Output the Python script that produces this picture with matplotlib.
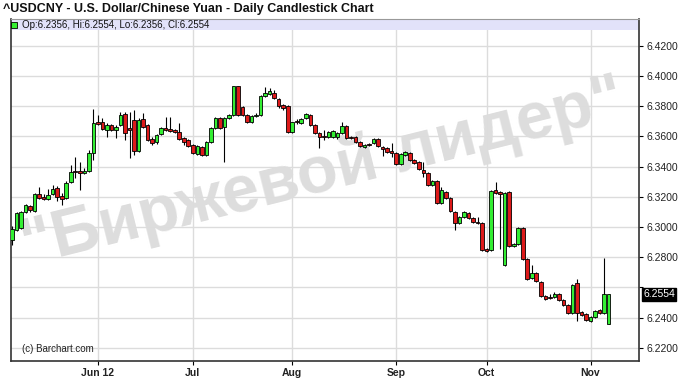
import numpy as np
import matplotlib
matplotlib.use('Agg')
import matplotlib.pyplot as plt
import matplotlib.transforms as mtrans
from matplotlib.patches import Rectangle

# daily candles, May 2012 - Nov 2012
opens = [6.2913, 6.2980, 6.2993, 6.3099, 6.3139, 6.3106, 6.3218, 6.3198, 6.3185, 6.3218,
         6.3258, 6.3205, 6.3192, 6.3298, 6.3370, 6.3370, 6.3357, 6.3370, 6.3490, 6.3695,
         6.3695, 6.3642, 6.3675, 6.3642, 6.3675, 6.3748, 6.3655, 6.3708, 6.3503, 6.3715,
         6.3675, 6.3582, 6.3563, 6.3616, 6.3655, 6.3649, 6.3642, 6.3629, 6.3589, 6.3576,
         6.3543, 6.3483, 6.3529, 6.3476, 6.3563, 6.3655, 6.3722, 6.3662, 6.3722, 6.3741,
         6.3933, 6.3794, 6.3741, 6.3695, 6.3735, 6.3741, 6.3867, 6.3880, 6.3887, 6.3847,
         6.3808, 6.3801, 6.3629, 6.3702, 6.3688, 6.3722, 6.3741, 6.3675, 6.3622, 6.3602,
         6.3596, 6.3596, 6.3596, 6.3622, 6.3668, 6.3596, 6.3596, 6.3563, 6.3529, 6.3549,
         6.3556, 6.3582, 6.3529, 6.3523, 6.3503, 6.3490, 6.3417, 6.3476, 6.3490, 6.3443,
         6.3430, 6.3377, 6.3357, 6.3278, 6.3304, 6.3159, 6.3231, 6.3192, 6.3099, 6.3026,
         6.3066, 6.3092, 6.3059, 6.3033, 6.3026, 6.2854, 6.2847, 6.3245, 6.3231, 6.2748,
         6.3231, 6.2874, 6.2887, 6.2993, 6.2788, 6.2662, 6.2695, 6.2635, 6.2543, 6.2536,
         6.2536, 6.2556, 6.2516, 6.2483, 6.2430, 6.2629, 6.2437, 6.2423, 6.2377, 6.2404,
         6.2450, 6.2430, 6.2356]
highs = [6.3006, 6.3099, 6.3106, 6.3152, 6.3145, 6.3225, 6.3265, 6.3218, 6.3251, 6.3278,
         6.3271, 6.3225, 6.3304, 6.3410, 6.3463, 6.3430, 6.3390, 6.3510, 6.3781, 6.3741,
         6.3722, 6.3688, 6.3682, 6.3675, 6.3761, 6.3761, 6.3761, 6.3774, 6.3722, 6.3755,
         6.3682, 6.3596, 6.3616, 6.3662, 6.3728, 6.3728, 6.3649, 6.3688, 6.3596, 6.3582,
         6.3549, 6.3543, 6.3536, 6.3569, 6.3662, 6.3728, 6.3728, 6.3728, 6.3748, 6.3933,
         6.3933, 6.3801, 6.3748, 6.3741, 6.3755, 6.3874, 6.3927, 6.3920, 6.3907, 6.3854,
         6.3814, 6.3808, 6.3695, 6.3715, 6.3722, 6.3755, 6.3748, 6.3682, 6.3629, 6.3642,
         6.3635, 6.3642, 6.3629, 6.3695, 6.3675, 6.3602, 6.3602, 6.3569, 6.3549, 6.3556,
         6.3589, 6.3589, 6.3536, 6.3529, 6.3556, 6.3496, 6.3490, 6.3503, 6.3496, 6.3450,
         6.3437, 6.3430, 6.3364, 6.3311, 6.3311, 6.3265, 6.3238, 6.3198, 6.3106, 6.3073,
         6.3106, 6.3099, 6.3066, 6.3066, 6.3033, 6.2860, 6.3245, 6.3298, 6.3238, 6.3231,
         6.3238, 6.2893, 6.2999, 6.2999, 6.2794, 6.2748, 6.2702, 6.2642, 6.2549, 6.2556,
         6.2569, 6.2562, 6.2523, 6.2490, 6.2622, 6.2655, 6.2443, 6.2430, 6.2410, 6.2450,
         6.2456, 6.2794, 6.2554]
lows = [6.2880, 6.2973, 6.2986, 6.3092, 6.3099, 6.3099, 6.3185, 6.3178, 6.3178, 6.3212,
        6.3172, 6.3145, 6.3185, 6.3291, 6.3324, 6.3245, 6.3351, 6.3364, 6.3443, 6.3675,
        6.3642, 6.3596, 6.3635, 6.3589, 6.3668, 6.3576, 6.3457, 6.3476, 6.3496, 6.3655,
        6.3569, 6.3543, 6.3549, 6.3609, 6.3635, 6.3629, 6.3622, 6.3576, 6.3543, 6.3529,
        6.3483, 6.3476, 6.3470, 6.3470, 6.3556, 6.3649, 6.3649, 6.3430, 6.3715, 6.3735,
        6.3735, 6.3735, 6.3688, 6.3688, 6.3728, 6.3735, 6.3861, 6.3874, 6.3847, 6.3788,
        6.3774, 6.3622, 6.3622, 6.3682, 6.3682, 6.3715, 6.3668, 6.3616, 6.3523, 6.3576,
        6.3589, 6.3589, 6.3582, 6.3616, 6.3582, 6.3582, 6.3556, 6.3529, 6.3523, 6.3536,
        6.3549, 6.3529, 6.3470, 6.3490, 6.3463, 6.3410, 6.3410, 6.3470, 6.3437, 6.3417,
        6.3377, 6.3331, 6.3271, 6.3271, 6.3152, 6.3152, 6.3185, 6.3099, 6.2980, 6.3020,
        6.3059, 6.3053, 6.3026, 6.3020, 6.2841, 6.2834, 6.2841, 6.3218, 6.2854, 6.2741,
        6.2867, 6.2867, 6.2880, 6.2781, 6.2648, 6.2655, 6.2635, 6.2536, 6.2516, 6.2523,
        6.2529, 6.2509, 6.2476, 6.2423, 6.2423, 6.2377, 6.2410, 6.2377, 6.2370, 6.2397,
        6.2423, 6.2423, 6.2356]
closes = [6.2986, 6.3092, 6.3099, 6.3145, 6.3112, 6.3218, 6.3192, 6.3185, 6.3212, 6.3251,
          6.3198, 6.3185, 6.3291, 6.3364, 6.3364, 6.3357, 6.3370, 6.3490, 6.3688, 6.3682,
          6.3649, 6.3675, 6.3642, 6.3662, 6.3741, 6.3622, 6.3642, 6.3503, 6.3708, 6.3662,
          6.3576, 6.3556, 6.3609, 6.3655, 6.3642, 6.3635, 6.3629, 6.3582, 6.3563, 6.3536,
          6.3490, 6.3536, 6.3476, 6.3563, 6.3655, 6.3722, 6.3655, 6.3722, 6.3741, 6.3933,
          6.3741, 6.3741, 6.3695, 6.3735, 6.3741, 6.3867, 6.3887, 6.3900, 6.3854, 6.3801,
          6.3788, 6.3629, 6.3695, 6.3695, 6.3715, 6.3748, 6.3675, 6.3622, 6.3596, 6.3596,
          6.3629, 6.3635, 6.3622, 6.3668, 6.3589, 6.3589, 6.3563, 6.3536, 6.3543, 6.3543,
          6.3582, 6.3536, 6.3516, 6.3496, 6.3490, 6.3417, 6.3483, 6.3496, 6.3443, 6.3423,
          6.3384, 6.3357, 6.3278, 6.3304, 6.3159, 6.3245, 6.3192, 6.3106, 6.3026, 6.3066,
          6.3099, 6.3059, 6.3033, 6.3026, 6.2847, 6.2841, 6.3238, 6.3225, 6.3218, 6.3225,
          6.2874, 6.2887, 6.2993, 6.2788, 6.2655, 6.2695, 6.2642, 6.2543, 6.2523, 6.2529,
          6.2556, 6.2516, 6.2483, 6.2430, 6.2616, 6.2430, 6.2417, 6.2384, 6.2404, 6.2443,
          6.2430, 6.2556, 6.2554]

month_pos = [19, 40, 62, 85, 105, 128]
month_labels = ['Jun 12', 'Jul', 'Aug', 'Sep', 'Oct', 'Nov']
price_ticks = [6.22, 6.24, 6.26, 6.28, 6.30, 6.32, 6.34, 6.36, 6.38, 6.40, 6.42]
last_price = 6.2554

plt.rcParams['font.family'] = ['Liberation Sans', 'DejaVu Sans']

o = np.array(opens)
h = np.array(highs)
l = np.array(lows)
c = np.array(closes)
idx = np.arange(len(o))
up = c >= o

fig = plt.figure(figsize=(6.88, 3.81), dpi=100)
ax = fig.add_axes([0.016, 0.0525, 0.9135, 0.8976])

ax.set_xlim(-0.22, 138.83)
ax.set_ylim(6.2112, 6.4377)

ax.grid(True, color='#dcdcdc', linewidth=1.0)
ax.set_axisbelow(True)

# wicks then bodies
ax.vlines(idx, l, h, color='black', linewidth=0.8, zorder=3)
body_low = np.minimum(o, c)
body_h = np.maximum(np.abs(c - o), 0.0008)
colors = np.where(up, '#33ee33', '#dd1a1a')
ax.bar(idx, body_h, bottom=body_low, width=0.8, color=colors,
       edgecolor='black', linewidth=0.6, zorder=4)

# watermark
ax.text(0.495, 0.55, '"Биржевой лидер"', transform=ax.transAxes, rotation=14,
        fontsize=48, fontweight='bold', color='#dddddd', ha='center',
        va='center', zorder=1)

ax.text(0.0175, 0.035, '(c) Barchart.com', transform=ax.transAxes,
        fontsize=7, color='#222222', va='center', zorder=5)

# legend band at top
ax.add_patch(Rectangle((0, 0.967), 1, 0.033, transform=ax.transAxes,
                       facecolor='#e2e2fa', edgecolor='none', zorder=2))
ax.plot([0.0055], [0.9835], marker='s', markersize=5, color='#33ee33',
        markeredgecolor='black', markeredgewidth=0.6, transform=ax.transAxes,
        zorder=5, clip_on=False)
ax.text(0.0175, 0.9835, 'Op:6.2356, Hi:6.2554, Lo:6.2356, Cl:6.2554',
        transform=ax.transAxes, fontsize=7, va='center', color='#111111',
        zorder=5)

ax.yaxis.tick_right()
ax.set_yticks(price_ticks)
ax.set_yticklabels(['' if abs(p - 6.26) < 1e-9 else '%.4f' % p for p in price_ticks])
ax.tick_params(axis='y', direction='out', length=3, width=0.8, pad=2,
               labelsize=7.5, labelcolor='#222222')
ax.set_xticks(month_pos)
ax.set_xticklabels(month_labels, fontweight='bold')
ax.tick_params(axis='x', direction='out', length=3, width=0.8, pad=2,
               labelsize=7.5, labelcolor='#222222')

tr = mtrans.blended_transform_factory(ax.transAxes, ax.transData)
ax.text(1.006, last_price, '6.2554', transform=tr, fontsize=7.5, color='white',
        va='center', ha='left', zorder=6,
        bbox=dict(boxstyle='square,pad=0.12', facecolor='black', edgecolor='black'))

for s in ['left', 'bottom', 'right']:
    ax.spines[s].set_color('#333333')
    ax.spines[s].set_linewidth(1.2)
ax.spines['top'].set_color('#999999')
ax.spines['top'].set_linewidth(0.8)

fig.text(0.0044, 0.976, '^USDCNY - U.S. Dollar/Chinese Yuan - Daily Candlestick Chart',
         fontsize=9, fontweight='bold', va='center', ha='left', color='#111111')

fig.savefig('out.png', dpi=100, facecolor='white')
